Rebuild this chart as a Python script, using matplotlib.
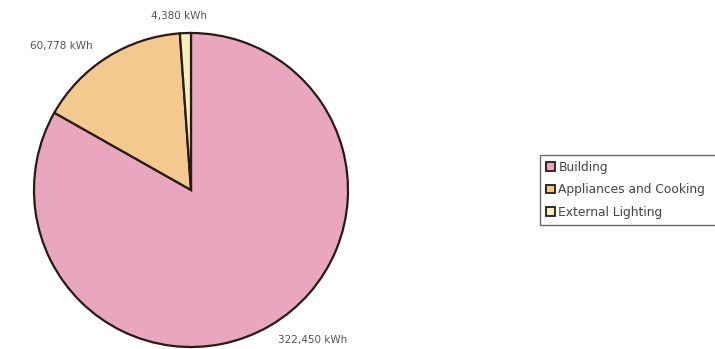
import matplotlib
matplotlib.use("Agg")
import matplotlib.pyplot as plt
import numpy as np

# Annual energy use by end use
categories = ["Building", "Appliances and Cooking", "External Lighting"]
energy_kwh = [322450, 60778, 4380]
labels = ["322,450 kWh", "60,778 kWh", "4,380 kWh"]
colors = ["#e9a7bf", "#f3c98f", "#f6efc0"]

# where each value label sits (angle in degrees, distance from centre in radii)
label_pos = [(-51, 1.23), (132, 1.23), (94, 1.11)]

fig = plt.figure(figsize=(7.15, 3.49), dpi=100)
ax = fig.add_axes([34 / 715, 2 / 349, 314 / 715, 314 / 349])

wedges, _ = ax.pie(energy_kwh, colors=colors, startangle=90, counterclock=False,
                   radius=1.0,
                   wedgeprops=dict(edgecolor="#2a1a14", linewidth=1.6))
ax.set_xlim(-1.0, 1.0)
ax.set_ylim(-1.0, 1.0)
ax.set_aspect("equal")
ax.axis("off")

for lab, (ang, dist) in zip(labels, label_pos):
    t = np.deg2rad(ang)
    ax.text(dist * np.cos(t), dist * np.sin(t), lab, ha="center", va="center",
            fontsize=7.5, color="#555555", clip_on=False)

# legend box runs off the right edge of the figure
leg = fig.legend(wedges, categories, loc="upper left",
                 bbox_to_anchor=(540 / 715, 1 - 226 / 349, 200 / 715, 71 / 349),
                 mode="expand",
                 fontsize=8.8, frameon=True, fancybox=False,
                 handlelength=0.75, handleheight=0.75, handletextpad=0.3,
                 labelspacing=0.8, borderpad=0.45, borderaxespad=0)
leg.get_frame().set_edgecolor("#444444")
leg.get_frame().set_linewidth(1.0)
for txt in leg.get_texts():
    txt.set_color("#444444")
for h in leg.legend_handles:
    h.set_edgecolor("#2a1a14")
    h.set_linewidth(1.3)

fig.savefig("out.png", dpi=100)
